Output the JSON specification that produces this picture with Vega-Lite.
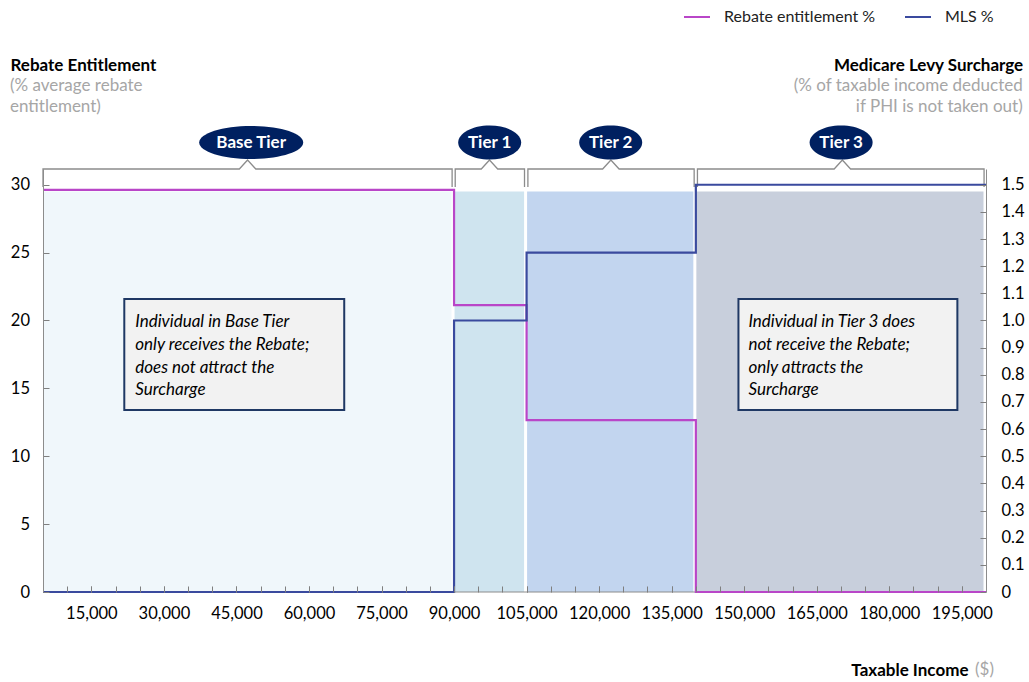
{
  "$schema": "https://vega.github.io/schema/vega-lite/v6.json",
  "width": 943,
  "height": 423,
  "autosize": {"type": "none"},
  "padding": {"left": 43, "top": 169, "right": 43, "bottom": 90},
  "background": "white",
  "config": {
    "font": "Lato",
    "view": {"stroke": null},
    "axis": {"grid": false, "zindex": 2, "labelOverlap": false, "labelFlush": false, "domainColor": "#8c8c8c", "tickColor": "#7f7f7f", "tickWidth": 1, "labelFontSize": 16.5, "labelColor": "#000000", "titleFontSize": 17, "titleFontWeight": "bold", "titleColor": "#000000"},
    "axisX": {"domain": false, "titleX": 925, "titleY": 78, "titleAlign": "right", "titleBaseline": "middle", "titleAngle": 0},
    "axisLeft": {"titleAngle": 0, "titleX": -33, "titleY": -104, "titleAlign": "left", "titleBaseline": "middle"},
    "axisRight": {"titleAngle": 0, "titleX": 36.7, "titleY": -104, "titleAlign": "right", "titleBaseline": "middle"},
    "legend": {"orient": "none", "direction": "horizontal", "symbolType": "stroke", "symbolSize": 676, "symbolStrokeWidth": 2, "labelFontSize": 16, "labelColor": "#222222", "labelOffset": 13, "columnPadding": 25, "padding": 0}
  },
  "layer": [
    {
      "layer": [
        {
          "data": {"values": [
            {"tier": "Base Tier", "x": 5000, "x2": 90000, "top": 29.5},
            {"tier": "Tier 1", "x": 90000, "x2": 105000, "top": 29.5},
            {"tier": "Tier 2", "x": 105000, "x2": 140000, "top": 29.5},
            {"tier": "Tier 3", "x": 140000, "x2": 200000, "top": 29.5}
          ]},
          "mark": {"type": "rect", "xOffset": 0.5, "x2Offset": -2.5},
          "encoding": {
            "x": {"field": "x", "type": "quantitative", "title": "Taxable Income",
                  "scale": {"domain": [5000, 200000], "nice": false, "zero": false},
                  "axis": {"values": [15000, 30000, 45000, 60000, 75000, 90000, 105000, 120000, 135000, 150000, 165000, 180000, 195000],
                           "format": ",.0f", "ticks": true, "tickSize": -6, "labelPadding": 19.5, "labelOverlap": false, "zindex": 2}},
            "x2": {"field": "x2"},
            "y": {"field": "top", "type": "quantitative", "title": "Rebate Entitlement",
                  "scale": {"domain": [0, 31.15], "nice": false},
                  "axis": {"orient": "left", "values": [0, 5, 10, 15, 20, 25, 30], "tickSize": -6, "labelPadding": 19.5, "labelOverlap": false, "zindex": 2}},
            "y2": {"datum": 0},
            "fill": {"field": "tier", "type": "nominal", "legend": null,
                     "scale": {"domain": ["Base Tier", "Tier 1", "Tier 2", "Tier 3"], "range": ["#f0f7fb", "#cfe4ef", "#c2d5ef", "#c8cfdc"]}}
          }
        },
        {
          "data": {"values": [{"y": 0}]},
          "mark": {"type": "rule", "color": "#8c8c8c", "strokeWidth": 1},
          "encoding": {"y": {"field": "y", "type": "quantitative", "title": "Rebate Entitlement"}}
        },
        {
          "data": {"values": [
            {"tier": "Base Tier", "ord": 1, "x": 5000, "y": 29.82},
            {"tier": "Base Tier", "ord": 2, "x": 5000, "y": 31.15},
            {"tier": "Base Tier", "ord": 3, "x": 45600, "y": 31.15},
            {"tier": "Base Tier", "ord": 4, "x": 47300, "y": 31.81},
            {"tier": "Base Tier", "ord": 5, "x": 49000, "y": 31.15},
            {"tier": "Base Tier", "ord": 6, "x": 89600, "y": 31.15},
            {"tier": "Base Tier", "ord": 7, "x": 89600, "y": 29.82},
            {"tier": "Tier 1", "ord": 1, "x": 90240, "y": 29.82},
            {"tier": "Tier 1", "ord": 2, "x": 90240, "y": 31.15},
            {"tier": "Tier 1", "ord": 3, "x": 95630, "y": 31.15},
            {"tier": "Tier 1", "ord": 4, "x": 97330, "y": 31.81},
            {"tier": "Tier 1", "ord": 5, "x": 99030, "y": 31.15},
            {"tier": "Tier 1", "ord": 6, "x": 104570, "y": 31.15},
            {"tier": "Tier 1", "ord": 7, "x": 104570, "y": 29.82},
            {"tier": "Tier 2", "ord": 1, "x": 105270, "y": 29.82},
            {"tier": "Tier 2", "ord": 2, "x": 105270, "y": 31.15},
            {"tier": "Tier 2", "ord": 3, "x": 120730, "y": 31.15},
            {"tier": "Tier 2", "ord": 4, "x": 122430, "y": 31.81},
            {"tier": "Tier 2", "ord": 5, "x": 124130, "y": 31.15},
            {"tier": "Tier 2", "ord": 6, "x": 139650, "y": 31.15},
            {"tier": "Tier 2", "ord": 7, "x": 139650, "y": 29.82},
            {"tier": "Tier 3", "ord": 1, "x": 140330, "y": 29.82},
            {"tier": "Tier 3", "ord": 2, "x": 140330, "y": 31.15},
            {"tier": "Tier 3", "ord": 3, "x": 168600, "y": 31.15},
            {"tier": "Tier 3", "ord": 4, "x": 170300, "y": 31.81},
            {"tier": "Tier 3", "ord": 5, "x": 172000, "y": 31.15},
            {"tier": "Tier 3", "ord": 6, "x": 199600, "y": 31.15},
            {"tier": "Tier 3", "ord": 7, "x": 199600, "y": 29.82}
          ]},
          "mark": {"type": "line", "color": "#8c8c8c", "strokeWidth": 1.3},
          "encoding": {
            "x": {"field": "x", "type": "quantitative", "title": "Taxable Income"},
            "y": {"field": "y", "type": "quantitative", "title": "Rebate Entitlement"},
            "detail": {"field": "tier"},
            "order": {"field": "ord", "type": "quantitative"}
          }
        },
        {
          "data": {"values": [{"tier": "Base Tier", "x": 48050, "y": 33.1}]},
          "mark": {"type": "point", "filled": true, "opacity": 1, "color": "#002060", "strokeWidth": 0, "size": 10816,
                   "shape": "M-1,0A1,0.317,0,1,1,1,0A1,0.317,0,1,1,-1,0Z"},
          "encoding": {
            "x": {"field": "x", "type": "quantitative", "title": "Taxable Income"},
            "y": {"field": "y", "type": "quantitative", "title": "Rebate Entitlement"}
          }
        },
        {
          "data": {"values": [
            {"tier": "Tier 1", "x": 97370, "y": 33.1},
            {"tier": "Tier 2", "x": 122390, "y": 33.1},
            {"tier": "Tier 3", "x": 170040, "y": 33.1}
          ]},
          "mark": {"type": "point", "filled": true, "opacity": 1, "color": "#002060", "strokeWidth": 0, "size": 3969,
                   "shape": "M-1,0A1,0.54,0,1,1,1,0A1,0.54,0,1,1,-1,0Z"},
          "encoding": {
            "x": {"field": "x", "type": "quantitative", "title": "Taxable Income"},
            "y": {"field": "y", "type": "quantitative", "title": "Rebate Entitlement"}
          }
        },
        {
          "data": {"values": [
            {"tier": "Base Tier", "x": 48050, "y": 33.1},
            {"tier": "Tier 1", "x": 97370, "y": 33.1},
            {"tier": "Tier 2", "x": 122390, "y": 33.1},
            {"tier": "Tier 3", "x": 170040, "y": 33.1}
          ]},
          "mark": {"type": "text", "color": "#ffffff", "fontWeight": "bold", "fontSize": 17, "baseline": "middle", "align": "center"},
          "encoding": {
            "x": {"field": "x", "type": "quantitative", "title": "Taxable Income"},
            "y": {"field": "y", "type": "quantitative", "title": "Rebate Entitlement"},
            "text": {"field": "tier"}
          }
        },
        {
          "data": {"values": [
            {"box": "base", "x": 21810, "x2": 67290, "y": 21.58, "y2": 13.4},
            {"box": "tier3", "x": 148810, "x2": 194080, "y": 21.58, "y2": 13.4}
          ]},
          "mark": {"type": "rect", "fill": "#f2f2f2", "stroke": "#1f3864", "strokeWidth": 2},
          "encoding": {
            "x": {"field": "x", "type": "quantitative", "title": "Taxable Income"},
            "x2": {"field": "x2"},
            "y": {"field": "y", "type": "quantitative", "title": "Rebate Entitlement"},
            "y2": {"field": "y2"}
          }
        },
        {
          "data": {"values": [
            {"x": 24080, "y": 19.5, "label": ["Individual in Base Tier", "only receives the Rebate;", "does not attract the", "Surcharge"]},
            {"x": 150870, "y": 19.5, "label": ["Individual in Tier 3 does", "not receive the Rebate;", "only attracts the", "Surcharge"]}
          ]},
          "mark": {"type": "text", "fontStyle": "italic", "fontSize": 17, "color": "#000000", "align": "left", "baseline": "alphabetic", "lineHeight": 22.7},
          "encoding": {
            "x": {"field": "x", "type": "quantitative", "title": "Taxable Income"},
            "y": {"field": "y", "type": "quantitative", "title": "Rebate Entitlement"},
            "text": {"field": "label"}
          }
        },
        {
          "data": {"values": [
            {"x": 5000, "y": 31.15, "label": ["(% average rebate", "entitlement)"]}
          ]},
          "mark": {"type": "text", "fontSize": 17, "color": "#a6a6a6", "align": "left", "baseline": "alphabetic", "lineHeight": 20.5, "dx": -33, "dy": -78},
          "encoding": {
            "x": {"field": "x", "type": "quantitative", "title": "Taxable Income"},
            "y": {"field": "y", "type": "quantitative", "title": "Rebate Entitlement"},
            "text": {"field": "label"}
          }
        },
        {
          "data": {"values": [
            {"x": 200000, "y": 31.15, "label": ["(% of taxable income deducted\u00a0", "if PHI is not taken out)"]}
          ]},
          "mark": {"type": "text", "fontSize": 17, "color": "#a6a6a6", "align": "right", "baseline": "alphabetic", "lineHeight": 21, "dx": 36.7, "dy": -78.3},
          "encoding": {
            "x": {"field": "x", "type": "quantitative", "title": "Taxable Income"},
            "y": {"field": "y", "type": "quantitative", "title": "Rebate Entitlement"},
            "text": {"field": "label"}
          }
        },
        {
          "data": {"values": [
            {"x": 200000, "y": 0, "label": "($)"}
          ]},
          "mark": {"type": "text", "fontSize": 17, "color": "#a6a6a6", "align": "right", "baseline": "alphabetic", "dx": 8, "dy": 83},
          "encoding": {
            "x": {"field": "x", "type": "quantitative", "title": "Taxable Income"},
            "y": {"field": "y", "type": "quantitative", "title": "Rebate Entitlement"},
            "text": {"field": "label"}
          }
        },
        {
          "data": {"values": [
            {"x": 5000, "value": 29.62, "series": "Rebate entitlement %"},
            {"x": 90000, "value": 21.12, "series": "Rebate entitlement %"},
            {"x": 105000, "value": 12.66, "series": "Rebate entitlement %"},
            {"x": 140000, "value": 0, "series": "Rebate entitlement %"},
            {"x": 200000, "value": 0, "series": "Rebate entitlement %"}
          ]},
          "mark": {"type": "line", "interpolate": "step-after", "strokeWidth": 2.2},
          "encoding": {
            "x": {"field": "x", "type": "quantitative", "title": "Taxable Income"},
            "y": {"field": "value", "type": "quantitative", "title": "Rebate Entitlement"},
            "color": {"field": "series", "type": "nominal",
                      "scale": {"domain": ["Rebate entitlement %", "MLS %"], "range": ["#b946c8", "#3a4a9e"]},
                      "legend": {"title": null, "orient": "none", "legendX": 640, "legendY": -166}}
          }
        }
      ]
    },
    {
      "data": {"values": [
        {"x": 5000, "value": 0, "series": "MLS %"},
        {"x": 90000, "value": 1.0, "series": "MLS %"},
        {"x": 105000, "value": 1.25, "series": "MLS %"},
        {"x": 140000, "value": 1.5, "series": "MLS %"},
        {"x": 200000, "value": 1.5, "series": "MLS %"}
      ]},
      "mark": {"type": "line", "interpolate": "step-after", "strokeWidth": 2.2},
      "encoding": {
        "x": {"field": "x", "type": "quantitative", "title": null,
              "axis": {"values": [10000,15000,20000,25000,30000,35000,40000,45000,50000,55000,60000,65000,70000,75000,80000,85000,90000,95000,100000,105000,110000,115000,120000,125000,130000,135000,140000,145000,150000,155000,160000,165000,170000,175000,180000,185000,190000,195000],
                       "labels": false, "title": null, "orient": "top", "offset": -423, "tickSize": 6, "domain": false, "zindex": 2}},
        "y": {"field": "value", "type": "quantitative", "title": "Medicare Levy Surcharge",
              "scale": {"domain": [0, 1.558], "nice": false},
              "axis": {"orient": "right", "values": [0, 0.1, 0.2, 0.3, 0.4, 0.5, 0.6, 0.7, 0.8, 0.9, 1.0, 1.1, 1.2, 1.3, 1.4, 1.5], "tickSize": -6, "labelPadding": 21,
                       "labelExpr": "datum.value === 0 ? '0' : format(datum.value, '.1f')", "labelOverlap": false, "zindex": 2}},
        "color": {"field": "series", "type": "nominal"}
      }
    }
  ],
  "resolve": {"scale": {"y": "independent"}, "axis": {"x": "independent"}}
}
